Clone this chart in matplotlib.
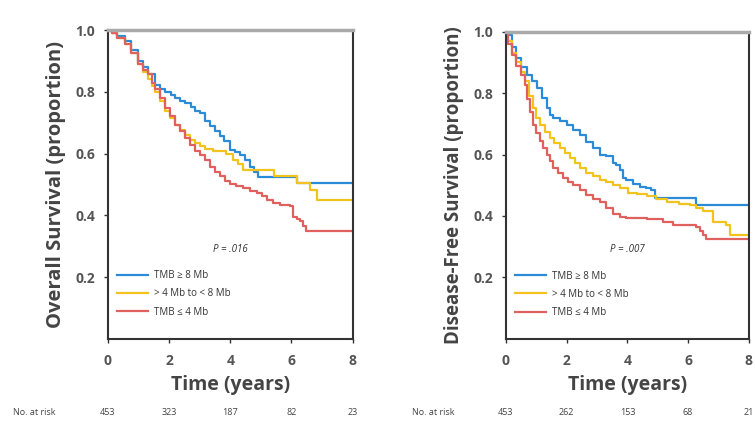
import matplotlib.pyplot as plt

plt.rcParams['font.family'] = ['Open Sans', 'DejaVu Sans']

# Overall survival (left panel), step points: time in years, proportion
os_high_t = [0, 0.12, 0.3, 0.56, 0.75, 0.99, 1.15, 1.32, 1.54, 1.7, 1.86, 2.05, 2.19, 2.35, 2.52, 2.7, 2.84,
             3.0, 3.17, 3.33, 3.5, 3.66, 3.8, 3.99, 4.15, 4.31, 4.48, 4.64, 4.78, 4.91, 6.17, 8]
os_high_s = [1.0, 0.99, 0.98, 0.964, 0.935, 0.90, 0.88, 0.857, 0.823, 0.81, 0.80, 0.79, 0.78, 0.77, 0.763, 0.75, 0.737,
             0.731, 0.704, 0.688, 0.672, 0.656, 0.64, 0.613, 0.605, 0.596, 0.58, 0.558, 0.54, 0.523, 0.505, 0.505]
os_mid_t = [0, 0.12, 0.3, 0.56, 0.75, 0.99, 1.15, 1.32, 1.45, 1.54, 1.7, 1.86, 2.02, 2.19, 2.35, 2.52, 2.68, 2.84,
            3.0, 3.17, 3.43, 3.87, 4.09, 4.25, 4.42, 5.42, 6.17, 6.6, 6.82, 8]
os_mid_s = [1.0, 0.99, 0.975, 0.955, 0.925, 0.89, 0.865, 0.84, 0.82, 0.80, 0.77, 0.737, 0.715, 0.694, 0.675, 0.661, 0.645, 0.634,
            0.623, 0.615, 0.607, 0.60, 0.58, 0.565, 0.548, 0.526, 0.505, 0.483, 0.45, 0.45]
os_low_t = [0, 0.12, 0.3, 0.56, 0.75, 0.99, 1.15, 1.32, 1.45, 1.54, 1.7, 1.86, 2.02, 2.19, 2.35, 2.52, 2.68, 2.84,
            3.0, 3.17, 3.33, 3.5, 3.66, 3.82, 3.99, 4.2, 4.42, 4.65, 4.86, 5.03, 5.19, 5.4, 5.62, 5.95, 6.06, 6.17,
            6.27, 6.38, 6.49, 8]
os_low_s = [1.0, 0.99, 0.975, 0.955, 0.925, 0.89, 0.87, 0.857, 0.83, 0.81, 0.78, 0.748, 0.72, 0.694, 0.672, 0.65, 0.628, 0.607,
            0.596, 0.58, 0.558, 0.54, 0.526, 0.512, 0.50, 0.494, 0.489, 0.48, 0.472, 0.462, 0.45, 0.44, 0.434, 0.429, 0.396, 0.388,
            0.38, 0.365, 0.35, 0.35]

# Disease-free survival (right panel)
dfs_high_t = [0, 0.08, 0.2, 0.35, 0.5, 0.68, 0.85, 1.01, 1.18, 1.34, 1.45, 1.56, 1.78, 2.0, 2.2, 2.43, 2.65, 2.87,
              3.09, 3.31, 3.53, 3.64, 3.75, 3.86, 3.97, 4.2, 4.41, 4.6, 4.79, 4.9, 6.27, 8]
dfs_high_s = [1.0, 0.99, 0.95, 0.914, 0.885, 0.86, 0.84, 0.817, 0.785, 0.751, 0.73, 0.719, 0.71, 0.697, 0.68, 0.664, 0.64, 0.621,
              0.60, 0.594, 0.572, 0.567, 0.55, 0.523, 0.518, 0.505, 0.496, 0.49, 0.485, 0.458, 0.436, 0.436]
dfs_mid_t = [0, 0.08, 0.2, 0.35, 0.5, 0.63, 0.76, 0.9, 1.0, 1.12, 1.28, 1.45, 1.6, 1.78, 1.95, 2.1, 2.27, 2.43, 2.65, 2.87,
             3.09, 3.31, 3.53, 3.75, 4.02, 4.3, 4.63, 4.95, 5.29, 5.7, 6.05, 6.27, 6.49, 6.82, 7.26, 7.37, 8]
dfs_mid_s = [1.0, 0.97, 0.93, 0.90, 0.87, 0.838, 0.79, 0.751, 0.72, 0.697, 0.675, 0.654, 0.638, 0.621, 0.605, 0.589, 0.572, 0.556, 0.54, 0.529,
             0.518, 0.512, 0.50, 0.491, 0.475, 0.47, 0.464, 0.455, 0.447, 0.44, 0.436, 0.425, 0.415, 0.382, 0.371, 0.339, 0.339]
dfs_low_t = [0, 0.08, 0.2, 0.35, 0.5, 0.63, 0.71, 0.79, 0.9, 1.0, 1.12, 1.23, 1.34, 1.45, 1.56, 1.72, 1.89, 2.05, 2.21, 2.43,
             2.65, 2.87, 3.09, 3.31, 3.53, 3.75, 3.97, 4.63, 5.18, 5.5, 6.27, 6.38, 6.49, 6.6, 8]
dfs_low_s = [1.0, 0.96, 0.925, 0.89, 0.86, 0.827, 0.78, 0.74, 0.697, 0.67, 0.643, 0.62, 0.60, 0.58, 0.556, 0.54, 0.523, 0.512, 0.502, 0.485,
             0.469, 0.455, 0.445, 0.425, 0.406, 0.398, 0.395, 0.39, 0.38, 0.37, 0.364, 0.35, 0.338, 0.325, 0.325]

labels = ["TMB \u2265 8 Mb", "> 4 Mb to < 8 Mb", "TMB \u2264 4 Mb"]
colors = ["#2b8bd6", "#f1c31c", "#e0605e"]
x_ticks = [0, 2, 4, 6, 8]
os_at_risk = [453, 323, 187, 82, 23]
dfs_at_risk = [453, 262, 153, 68, 21]
p_values = ["P = .016", "P = .007"]
y_titles = ["Overall Survival (proportion)", "Disease-Free Survival (proportion)"]
y_title_sizes = [14.5, 13.5]

fig = plt.figure(figsize=(7.55, 4.23), dpi=100)
ax1 = fig.add_axes([0.143, 0.199, 0.324, 0.730])
ax2 = fig.add_axes([0.670, 0.199, 0.322, 0.726])

panels = [
    (ax1, [(os_high_t, os_high_s), (os_mid_t, os_mid_s), (os_low_t, os_low_s)], os_at_risk),
    (ax2, [(dfs_high_t, dfs_high_s), (dfs_mid_t, dfs_mid_s), (dfs_low_t, dfs_low_s)], dfs_at_risk),
]

tick_col = "#555555"
for i, (ax, curves, at_risk) in enumerate(panels):
    for (t, s), lab, c in zip(curves, labels, colors):
        ax.plot(t, s, drawstyle='steps-post', color=c, lw=1.6, label=lab)
    ax.set_xlim(0, 8)
    ax.set_ylim(0, 1.0)
    ax.set_xticks(x_ticks)
    ax.set_yticks([0.2, 0.4, 0.6, 0.8, 1.0])
    ax.set_yticklabels(["0.2", "0.4", "0.6", "0.8", "1.0"])
    ax.tick_params(axis='both', labelsize=10, colors='#333333', labelcolor=tick_col,
                   length=3, width=1)
    for lbl in ax.get_xticklabels() + ax.get_yticklabels():
        lbl.set_fontweight('bold')
    ax.tick_params(axis='x', pad=8)
    ax.tick_params(axis='y', pad=6)
    for sp in ax.spines.values():
        sp.set_linewidth(1.5)
        sp.set_color('#333333')
    ax.spines['top'].set_color('#aaaaaa')
    ax.spines['top'].set_linewidth(2.5)
    ax.set_xlabel("Time (years)", fontsize=14, fontweight='bold', color='#444444', labelpad=5)
    ax.set_ylabel(y_titles[i], fontsize=y_title_sizes[i], fontweight='bold', color='#444444', labelpad=7)
    ax.text(4.0, 0.29, p_values[i], fontsize=7, ha='center', va='center', style='italic',
            color='#333333')
    ax.legend(loc='upper left', bbox_to_anchor=(0.02, 0.235), frameon=False, fontsize=7,
              handlelength=3.2, handletextpad=0.6, labelspacing=0.75, borderaxespad=0,
              labelcolor='#333333')
    # number at risk row
    ax.text(-3.1, -0.24, "No. at risk", fontsize=6.5, color='#444444', ha='left', va='center',
            clip_on=False)
    for xv, n in zip(x_ticks, at_risk):
        ax.text(xv, -0.24, str(n), fontsize=6.5, color='#444444', ha='center', va='center',
                clip_on=False)

fig.savefig("out.png", dpi=100)
